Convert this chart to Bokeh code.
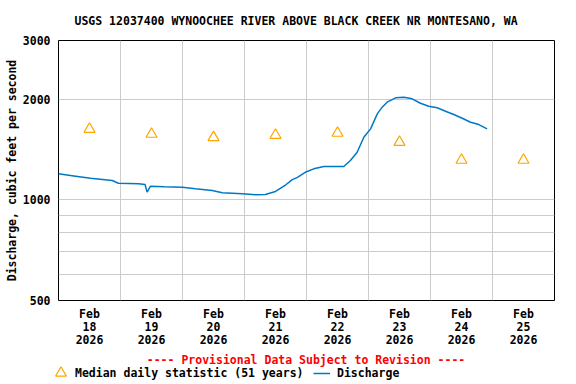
from bokeh.plotting import figure
from bokeh.layouts import column
from bokeh.models import FixedTicker, PrintfTickFormatter, Legend, LegendItem, Range1d, Label
from bokeh.embed import file_html
from bokeh.resources import INLINE

# ---------------- data ----------------
title_text = "USGS 12037400 WYNOOCHEE RIVER ABOVE BLACK CREEK NR MONTESANO, WA"
y_title = "Discharge, cubic feet per second"
provisional_text = "---- Provisional Data Subject to Revision ----"
median_label = "Median daily statistic (51 years)"
discharge_label = "Discharge"

# hours since Feb 18 2026 00:00
day_centers = [12, 36, 60, 84, 108, 132, 156, 180]
day_labels = ["Feb\n18\n2026", "Feb\n19\n2026", "Feb\n20\n2026", "Feb\n21\n2026",
              "Feb\n22\n2026", "Feb\n23\n2026", "Feb\n24\n2026", "Feb\n25\n2026"]
day_bounds = [24, 48, 72, 96, 120, 144, 168]
median_cfs = [1629, 1574, 1538, 1563, 1585, 1489, 1316, 1316]

q_hours = [0, 6.6, 12.4, 20.8, 23.2, 31, 33.5, 34.3, 35.6, 41, 47.9, 53, 59.5, 63.4,
           71.1, 76.3, 80.1, 84, 86, 88, 90.5, 92.5, 95.5, 98.8, 102.7, 110.4, 113,
           115.6, 118.2, 120.8, 123.4, 125.3, 127.2, 130.5, 133.7, 136.9, 140.1,
           143.3, 146.6, 149.8, 153, 156.3, 159.5, 162.7, 165.9]
q_cfs = [1197, 1178, 1161, 1143, 1122, 1117, 1112, 1055, 1099, 1095, 1091, 1080, 1067, 1050,
         1043, 1036, 1038, 1060, 1085, 1110, 1150, 1168, 1210, 1239, 1259, 1259, 1312,
         1389, 1540, 1632, 1810, 1895, 1961, 2021, 2030, 2007, 1947,
         1908, 1887, 1843, 1801, 1756, 1708, 1681, 1632]

y_ticks = [500, 1000, 2000, 3000]
y_grid = [600, 700, 800, 900, 1000, 2000]

# ---------------- style ----------------
FONT = "DejaVu Sans Mono"
FS = "11.5px"
BLUE = "#0078C8"
ORANGE = "#FFA500"

p = figure(width=576, height=350, output_backend="svg", toolbar_location=None,
           title=title_text,
           y_axis_type="log", x_range=Range1d(0, 192), y_range=Range1d(500, 3000),
           min_border_left=58, min_border_right=22, min_border_top=40, min_border_bottom=50)
p.background_fill_color = "white"
p.border_fill_color = "white"
p.outline_line_color = "black"
p.outline_line_width = 1

p.title.align = "left"
p.title.offset = 16
p.title.vertical_align = "middle"
p.title.standoff = 24
p.title.text_font = FONT
p.title.text_font_size = FS
p.title.text_font_style = "bold"
p.title.text_color = "black"

p.xaxis.ticker = FixedTicker(ticks=day_centers)
p.xaxis.major_label_overrides = {c: l for c, l in zip(day_centers, day_labels)}
p.xgrid.ticker = FixedTicker(ticks=day_bounds)
p.yaxis.ticker = FixedTicker(ticks=y_ticks)
p.yaxis.formatter = PrintfTickFormatter(format="%d")
p.ygrid.ticker = FixedTicker(ticks=y_grid)

for ax in (p.xaxis[0], p.yaxis[0]):
    ax.axis_line_color = None
    ax.major_tick_in = 0
    ax.major_tick_out = 0
    ax.minor_tick_in = 0
    ax.minor_tick_out = 0
    ax.major_label_text_font = FONT
    ax.major_label_text_font_size = FS
    ax.major_label_text_font_style = "bold"
    ax.major_label_text_color = "black"
    ax.axis_label_text_font = FONT
    ax.axis_label_text_font_size = FS
    ax.axis_label_text_font_style = "bold"
p.yaxis.major_label_standoff = 8
p.yaxis.axis_label = y_title
p.yaxis.axis_label_standoff = 1
p.yaxis.axis_label_text_color = "black"
p.xaxis.major_label_standoff = 6
p.xaxis.major_label_text_line_height = 0.95

for g in (p.xgrid[0], p.ygrid[0]):
    g.grid_line_color = "#CCCCCC"
    g.grid_line_width = 1

p.line(q_hours, q_cfs, line_color=BLUE, line_width=1.5)
p.scatter(day_centers, median_cfs, marker="triangle", size=11,
          line_color=ORANGE, fill_color=None, line_width=1.2)

# ---------------- caption + legend strip ----------------
pl = figure(width=576, height=34, output_backend="svg", toolbar_location=None,
            x_axis_type=None, y_axis_type=None, x_range=Range1d(0, 1), y_range=Range1d(0, 1),
            min_border=0)
for fig in (p, pl):
    try:
        fig.frame_align = False
    except Exception:
        pass
pl.outline_line_color = None
pl.grid.visible = False
pl.background_fill_color = "white"
pl.border_fill_color = "white"
# legend proxies: same series, lying outside this strip's ranges so only the legend shows them
tri_l = pl.scatter(day_centers, median_cfs, marker="triangle", size=11, line_color=ORANGE,
                   fill_color=None, line_width=1.2)
ln_l = pl.line(q_hours, q_cfs, line_color=BLUE, line_width=1.5)

pl.add_layout(Label(x=305.5, y=25, x_units="screen", y_units="screen", text=provisional_text,
                    text_font=FONT, text_font_size=FS, text_font_style="bold",
                    text_color="#FF0000", text_align="center", text_baseline="middle"))

common = dict(orientation="horizontal", padding=0, margin=0, border_line_color=None,
              background_fill_alpha=0, label_text_font=FONT, label_text_font_size=FS,
              label_text_font_style="bold", label_text_color="black", label_height=12)
leg1 = Legend(items=[LegendItem(label=median_label, renderers=[tri_l])],
              location=(47, -2), glyph_width=27, glyph_height=27, label_standoff=1, **common)
leg2 = Legend(items=[LegendItem(label=discharge_label, renderers=[ln_l])],
              location=(313, 4), glyph_width=17, glyph_height=12, label_standoff=7, **common)
pl.add_layout(leg1)
pl.add_layout(leg2)

layout = column(p, pl, spacing=0)
open("out.html", "w").write(file_html(layout, INLINE))
